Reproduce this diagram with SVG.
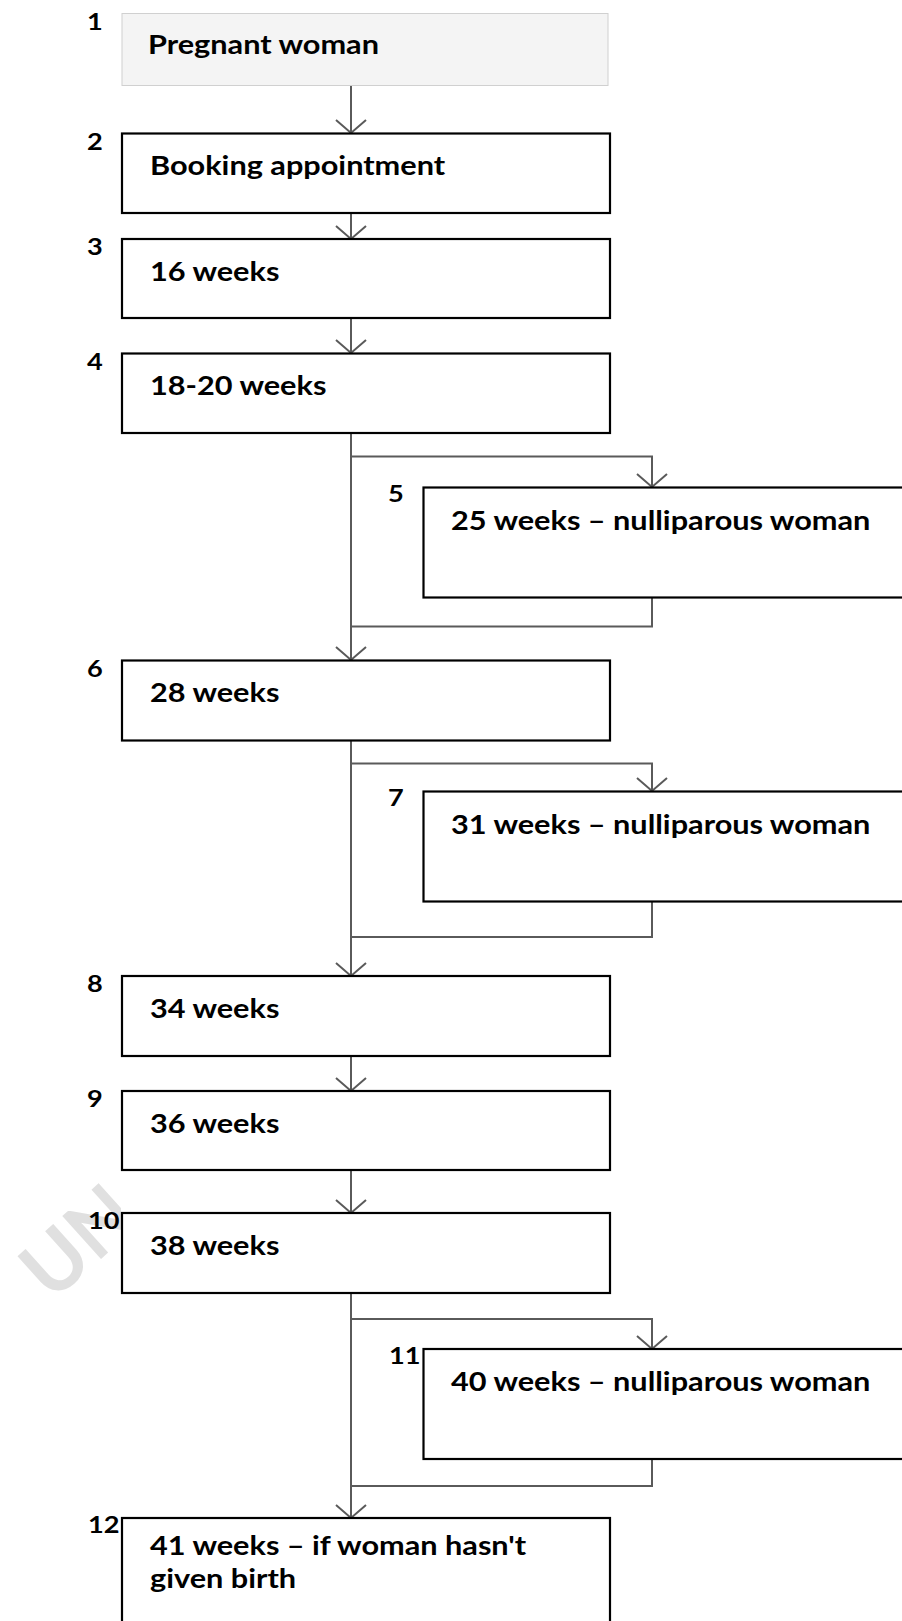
<svg xmlns="http://www.w3.org/2000/svg" width="902" height="1621" viewBox="0 0 902 1621">
<style>
.box{fill:#fff;stroke:#000;stroke-width:2.2}
.box1{fill:#f4f4f4;stroke:#d0d0d0;stroke-width:1}
.lbl{font-family:Lato,"Liberation Sans",sans-serif;font-weight:700;font-size:26px;fill:#000}
.num{font-family:Lato,"Liberation Sans",sans-serif;font-weight:700;font-size:23px;fill:#000}
.con{fill:none;stroke:#5a5a5a;stroke-width:2}
.wm{font-family:Lato,"Liberation Sans",sans-serif;font-weight:700;font-size:80px;fill:#e0e0e0}
</style>
<defs>
<marker id="arr" viewBox="-15 -17 17 34" refX="0" refY="0" markerWidth="17" markerHeight="34" orient="auto" markerUnits="userSpaceOnUse">
<path d="M-13,-15 L0,0 L-13,15" fill="none" stroke="#5a5a5a" stroke-width="2"/>
</marker>
<clipPath id="wmclip"><rect x="0" y="1100" width="121" height="300"/></clipPath>
</defs>
<g id="watermark" clip-path="url(#wmclip)">
<text class="wm" transform="translate(52,1303) rotate(-42)" x="0" y="0">UN</text>
</g>
<g id="connectors">
<path class="con" d="M351,86 V133" marker-end="url(#arr)"/>
<path class="con" d="M351,213 V239" marker-end="url(#arr)"/>
<path class="con" d="M351,318 V353" marker-end="url(#arr)"/>
<path class="con" d="M351,433 V660" marker-end="url(#arr)"/>
<path class="con" d="M351,456.5 H652 V487" marker-end="url(#arr)"/>
<path class="con" d="M652,597.5 V626.5 H351"/>
<path class="con" d="M351,740.5 V976" marker-end="url(#arr)"/>
<path class="con" d="M351,763.5 H652 V791" marker-end="url(#arr)"/>
<path class="con" d="M652,901.5 V937 H351"/>
<path class="con" d="M351,1056 V1091" marker-end="url(#arr)"/>
<path class="con" d="M351,1170 V1213" marker-end="url(#arr)"/>
<path class="con" d="M351,1293 V1518" marker-end="url(#arr)"/>
<path class="con" d="M351,1319 H652 V1349" marker-end="url(#arr)"/>
<path class="con" d="M652,1459 V1486 H351"/>
</g>
<g id="n1"><rect class="box1" x="122" y="13.5" width="486" height="72"/><text class="num" transform="matrix(1.18 0 0 1 87 29.5)">1</text><text class="lbl" transform="matrix(1.18 0 0 1 148 53.5)">Pregnant woman</text></g>
<g id="n2"><rect class="box" x="122" y="133.5" width="488" height="79.5"/><text class="num" transform="matrix(1.18 0 0 1 87 149.5)">2</text><text class="lbl" transform="matrix(1.18 0 0 1 150 175)">Booking appointment</text></g>
<g id="n3"><rect class="box" x="122" y="239" width="488" height="79"/><text class="num" transform="matrix(1.18 0 0 1 87 255)">3</text><text class="lbl" transform="matrix(1.18 0 0 1 150 280.5)">16 weeks</text></g>
<g id="n4"><rect class="box" x="122" y="353.5" width="488" height="79.5"/><text class="num" transform="matrix(1.18 0 0 1 87 369.5)">4</text><text class="lbl" transform="matrix(1.18 0 0 1 150 395)">18-20 weeks</text></g>
<g id="n5"><rect class="box" x="423.5" y="487.5" width="490" height="110"/><text class="num" transform="matrix(1.18 0 0 1 388 502)">5</text><text class="lbl" transform="matrix(1.18 0 0 1 451 530)">25 weeks – nulliparous woman</text></g>
<g id="n6"><rect class="box" x="122" y="660.5" width="488" height="80"/><text class="num" transform="matrix(1.18 0 0 1 87 676.5)">6</text><text class="lbl" transform="matrix(1.18 0 0 1 150 702)">28 weeks</text></g>
<g id="n7"><rect class="box" x="423.5" y="791.5" width="490" height="110"/><text class="num" transform="matrix(1.18 0 0 1 388 806)">7</text><text class="lbl" transform="matrix(1.18 0 0 1 451 834)">31 weeks – nulliparous woman</text></g>
<g id="n8"><rect class="box" x="122" y="976" width="488" height="80"/><text class="num" transform="matrix(1.18 0 0 1 87 992)">8</text><text class="lbl" transform="matrix(1.18 0 0 1 150 1017.5)">34 weeks</text></g>
<g id="n9"><rect class="box" x="122" y="1091" width="488" height="79"/><text class="num" transform="matrix(1.18 0 0 1 87 1107)">9</text><text class="lbl" transform="matrix(1.18 0 0 1 150 1132.5)">36 weeks</text></g>
<g id="n10"><rect class="box" x="122" y="1213" width="488" height="80"/><text class="num" transform="matrix(1.18 0 0 1 88 1228.5)">10</text><text class="lbl" transform="matrix(1.18 0 0 1 150 1254.5)">38 weeks</text></g>
<g id="n11"><rect class="box" x="423.5" y="1349" width="490" height="110"/><text class="num" transform="matrix(1.18 0 0 1 389 1364)">11</text><text class="lbl" transform="matrix(1.18 0 0 1 451 1391)">40 weeks – nulliparous woman</text></g>
<g id="n12"><rect class="box" x="122" y="1518" width="488" height="122"/><text class="num" transform="matrix(1.18 0 0 1 88 1533)">12</text><text class="lbl" transform="matrix(1.18 0 0 1 150 1555)">41 weeks – if woman hasn't</text><text class="lbl" transform="matrix(1.18 0 0 1 150 1588)">given birth</text></g>
</svg>
